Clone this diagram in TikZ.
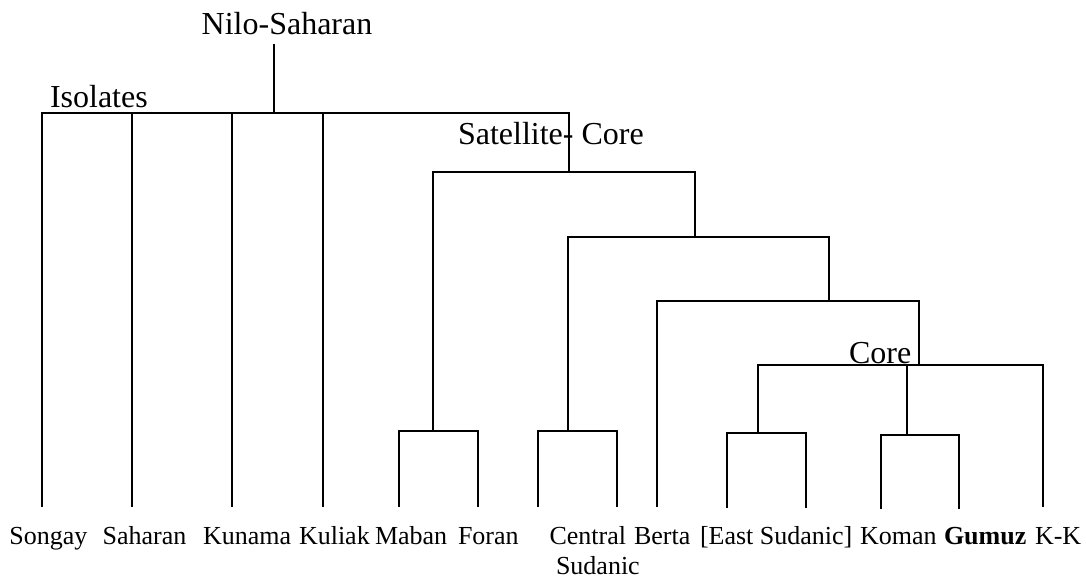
\documentclass[tikz,border=0pt]{standalone}
\usepackage{fontspec}
\setmainfont{Liberation Serif}
\begin{document}
\begin{tikzpicture}[x=0.5pt,y=-0.5pt,
  branch/.style={line width=1pt,line join=miter,line cap=rect},
  toplab/.style={inner sep=0pt,outer sep=0pt,anchor=base west,font=\fontsize{16}{19}\selectfont},
  botlab/.style={inner sep=0pt,outer sep=0pt,anchor=base west,font=\fontsize{13}{15}\selectfont}]
\useasboundingbox (0,0) rectangle (1086,578);
% junction coordinates
\coordinate (ns) at (274.3,45);
\coordinate (scbar) at (569,112.5);
\coordinate (scj) at (569,171.7);
\coordinate (mfj) at (433,430.7);
\coordinate (s2j) at (695,236.7);
\coordinate (csj) at (568,430.7);
\coordinate (s3j) at (829.3,301);
\coordinate (corej) at (919.3,365);
\coordinate (esj) at (757.7,433.3);
\coordinate (kgj) at (906.7,434.7);
% leaves
\coordinate (L1) at (42.3,506);
\coordinate (L2) at (132,506);
\coordinate (L3) at (231.5,506);
\coordinate (L4) at (322.7,506);
\coordinate (Lmab) at (399,506);
\coordinate (Lfor) at (477.7,506);
\coordinate (Lcen1) at (538.3,506);
\coordinate (Lcen2) at (617,506);
\coordinate (Lber) at (656.7,506);
\coordinate (Les1) at (727.3,507);
\coordinate (Les2) at (806,507);
\coordinate (Lkom) at (881,508);
\coordinate (Lgum) at (959.3,508);
\coordinate (Lkk) at (1042.7,506);
% tree
\draw[branch] (ns) -- (ns |- scbar);
\draw[branch] (L1) |- (scbar) -- (scj);
\draw[branch] (L2) -- (L2 |- scbar);
\draw[branch] (L3) -- (L3 |- scbar);
\draw[branch] (L4) -- (L4 |- scbar);
\draw[branch] (mfj) |- (scj) -| (s2j);
\draw[branch] (Lmab) |- (mfj) -| (Lfor);
\draw[branch] (csj) |- (s2j) -| (s3j);
\draw[branch] (Lcen1) |- (csj) -| (Lcen2);
\draw[branch] (Lber) |- (s3j) -| (corej);
\draw[branch] (esj) |- (corej) -| (Lkk);
\draw[branch] (kgj) -- (kgj |- corej);
\draw[branch] (Les1) |- (esj) -| (Les2);
\draw[branch] (Lkom) |- (kgj) -| (Lgum);
% labels
\node[toplab] (nilo) at (201.7,34) {Nilo-Saharan};
\node[toplab] (iso) at (50,107.7) {Isolates};
\node[toplab] (satcore) at (458,144) {Satellite- Core};
\node[toplab] (core) at (849,363.3) {Core};
\node[botlab] (songay) at (9.3,544) {Songay};
\node[botlab] (saharan) at (102.7,544) {Saharan};
\node[botlab] (kunama) at (203,544) {Kunama};
\node[botlab] (kuliak) at (299,544) {Kuliak};
\node[botlab] (maban) at (375,544) {Maban};
\node[botlab] (foran) at (458,544) {Foran};
\node[botlab] (central) at (549.5,544) {Central};
\node[botlab] (sudanic) at (556,574) {Sudanic};
\node[botlab] (berta) at (634,544) {Berta};
\node[botlab] (eastsud) at (700,544) {[East Sudanic]};
\node[botlab] (koman) at (860,544) {Koman};
\node[botlab] (gumuz) at (944,544) {\bfseries Gumuz};
\node[botlab] (kk) at (1035,544) {K-K};
\end{tikzpicture}
\end{document}
